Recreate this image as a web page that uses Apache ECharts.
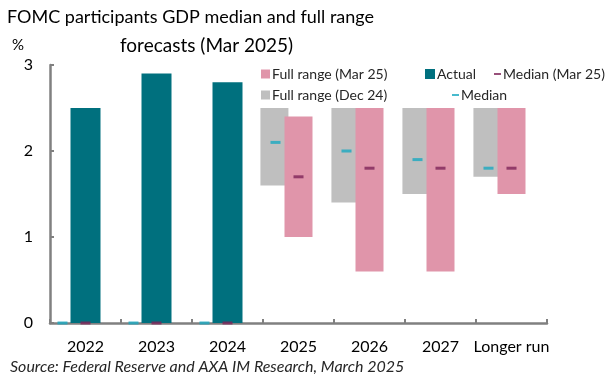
<!DOCTYPE html>
<html>
<head>
<meta charset="utf-8">
<script src="https://cdn.jsdelivr.net/npm/echarts@6/dist/echarts.min.js"></script>
<style>
html,body{margin:0;padding:0;background:#fff;}
#chart{width:614px;height:379px;}
</style>
</head>
<body>
<div id="chart"></div>
<script>
// ---- data ----
const categories = ['2022', '2023', '2024', '2025', '2026', '2027', 'Longer run'];
const actual = [2.5, 2.9, 2.8, null, null, null, null];
const dec24Low = [null, null, null, 1.6, 1.4, 1.5, 1.7];
const dec24High = [null, null, null, 2.5, 2.5, 2.5, 2.5];
const mar25Low = [null, null, null, 1.0, 0.6, 0.6, 1.5];
const mar25High = [null, null, null, 2.4, 2.5, 2.5, 2.5];
const medianDec24 = [0, 0, 0, 2.1, 2.0, 1.9, 1.8];
const medianMar25 = [0, 0, 0, 1.7, 1.8, 1.8, 1.8];
const yTicks = [0, 1, 2, 3];

const FONT = 'Lato';
const C_ACTUAL = '#00707E';
const C_PINK = '#E095AA';
const C_GRAY = '#BFBFBF';
const C_TEAL = '#1AA9C0';
const C_PURPLE = '#7E2459';
const C_AXIS = '#808080';

const span = (hi, lo) => hi.map((h, i) => (h == null || lo[i] == null) ? null : +(h - lo[i]).toFixed(2));

const chart = echarts.init(document.getElementById('chart'), null, {renderer: 'canvas'});

const legendText = {fontFamily: FONT, fontSize: 14, color: '#262626'};
function legend(name, left, top, icon, w, h) {
  return {
    data: [name], left: left, top: top, icon: icon,
    itemWidth: w, itemHeight: h, padding: 0,
    textStyle: Object.assign({padding: [0, 0, 0, -3]}, legendText),
    selectedMode: false
  };
}

const option = {
  animation: false,
  title: [
    {text: 'FOMC participants GDP median and full range', left: 7, top: 8,
     padding: 0, textStyle: {fontFamily: FONT, fontSize: 18, fontWeight: 'normal', color: '#000'}},
    {text: 'forecasts (Mar 2025)', left: 120, top: 36,
     padding: 0, textStyle: {fontFamily: FONT, fontSize: 19, fontWeight: 'normal', color: '#000'}},
    {text: '%', left: 12, top: 38,
     padding: 0, textStyle: {fontFamily: FONT, fontSize: 15, fontWeight: 'normal', color: '#000'}},
    {text: 'Source: Federal Reserve and AXA IM Research, March 2025', left: 10, top: 359,
     padding: 0, textStyle: {fontFamily: FONT, fontSize: 16, fontStyle: 'italic', fontWeight: 'normal', color: '#262626'}}
  ],
  legend: [
    legend('Full range (Mar 25)', 261, 67, 'rect', 9, 9),
    legend('Actual', 425, 67, 'rect', 10, 10),
    legend('Median (Mar 25)', 494, 67, 'rect', 7, 2),
    legend('Full range (Dec 24)', 261, 88, 'rect', 9, 9),
    legend('Median', 452, 88, 'rect', 7, 2)
  ],
  grid: {left: 50, right: 67, top: 65, bottom: 56, containLabel: false},
  xAxis: [
    {
      type: 'category', data: categories,
      axisLine: {lineStyle: {color: C_AXIS, width: 2.5}},
      axisTick: {show: true, inside: true, length: 4, lineStyle: {color: C_AXIS, width: 2}},
      axisLabel: {fontFamily: FONT, fontSize: 16, color: '#000', margin: 16, interval: 0},
      splitLine: {show: false}
    },
    {
      type: 'category', data: categories, show: false
    }
  ],
  yAxis: {
    type: 'value', min: yTicks[0], max: yTicks[yTicks.length - 1], interval: 1,
    axisLine: {show: true, lineStyle: {color: C_AXIS, width: 2.5}},
    axisTick: {show: true, inside: true, length: 4, lineStyle: {color: C_AXIS, width: 2}},
    axisLabel: {fontFamily: FONT, fontSize: 16, color: '#000', margin: 17},
    splitLine: {show: false}
  },
  series: [
    {name: 'grayBase', type: 'bar', stack: 'g', xAxisIndex: 0, data: dec24Low,
     itemStyle: {color: 'transparent'}, barWidth: 28, barGap: '-14%', silent: true},
    {name: 'Full range (Dec 24)', type: 'bar', stack: 'g', xAxisIndex: 0, data: span(dec24High, dec24Low),
     itemStyle: {color: C_GRAY}, barWidth: 28, barGap: '-14%'},
    {name: 'pinkBase', type: 'bar', stack: 'p', xAxisIndex: 0, data: mar25Low,
     itemStyle: {color: 'transparent'}, barWidth: 28, barGap: '-14%', silent: true},
    {name: 'Full range (Mar 25)', type: 'bar', stack: 'p', xAxisIndex: 0, data: span(mar25High, mar25Low),
     itemStyle: {color: C_PINK}, barWidth: 28, barGap: '-14%'},
    {name: 'phantom', type: 'bar', stack: 'x', xAxisIndex: 0, data: categories.map(() => null),
     itemStyle: {color: 'transparent'}, barWidth: 28, barGap: '-14%', silent: true},
    {name: 'Actual', type: 'bar', xAxisIndex: 1, data: actual,
     itemStyle: {color: C_ACTUAL}, barWidth: 30},
    {name: 'Median', type: 'scatter', xAxisIndex: 0, data: medianDec24,
     symbol: 'rect', symbolSize: [10, 3], symbolOffset: [-23, 0], z: 5,
     itemStyle: {color: C_TEAL}},
    {name: 'Median (Mar 25)', type: 'scatter', xAxisIndex: 0, data: medianMar25,
     symbol: 'rect', symbolSize: [10, 3], symbolOffset: [0, 0], z: 5,
     itemStyle: {color: C_PURPLE}}
  ]
};
chart.setOption(option);
</script>
</body>
</html>
